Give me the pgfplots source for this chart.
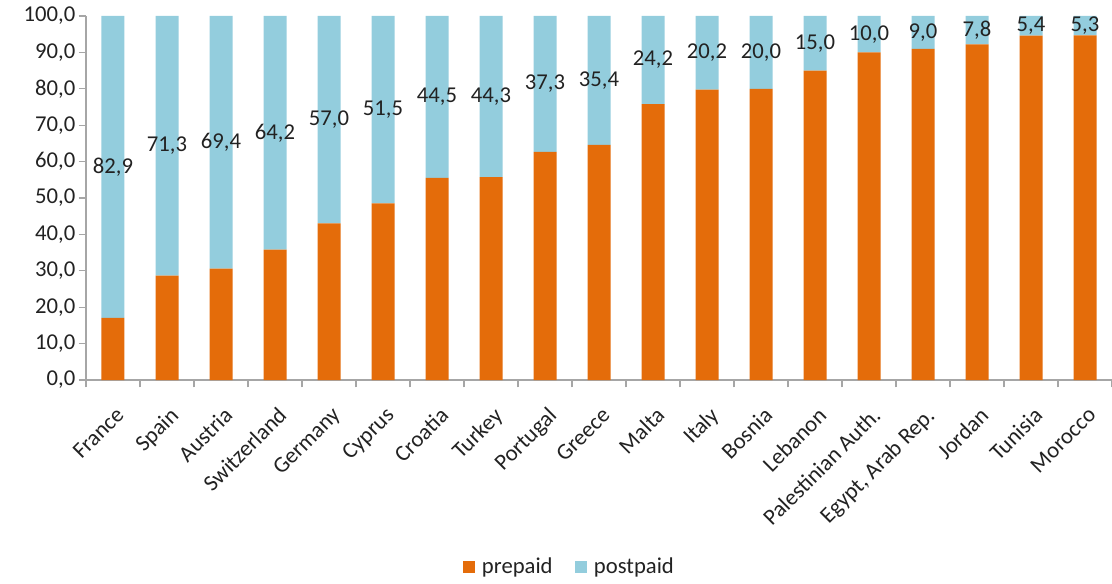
\documentclass[border=0pt]{standalone}
\usepackage{pgfplots}
\pgfplotsset{compat=1.18}
\usepackage{pgfplotstable}
\usepackage{fontspec}
\setmainfont{Carlito}

\definecolor{prepaidc}{HTML}{E46C0A}
\definecolor{postpaidc}{HTML}{93CDDD}
\definecolor{axisgray}{HTML}{A6A6A6}
\definecolor{txt}{HTML}{222222}
\newcommand{\lblfont}{\fontsize{17}{19}\selectfont}

% share of mobile subscriptions, per cent
\pgfplotstableread{
x  pre   post
0  17.1  82.9
1  28.7  71.3
2  30.6  69.4
3  35.8  64.2
4  43.0  57.0
5  48.5  51.5
6  55.5  44.5
7  55.7  44.3
8  62.7  37.3
9  64.6  35.4
10 75.8  24.2
11 79.8  20.2
12 80.0  20.0
13 85.0  15.0
14 90.0  10.0
15 91.0  9.0
16 92.2  7.8
17 94.6  5.4
18 94.7  5.3
}\subs

\begin{document}
\begin{tikzpicture}
\useasboundingbox (-64.5pt,-153pt) rectangle (769.5pt,285pt);
\begin{axis}[
  scale only axis,
  width=769.5pt, height=273pt,
  ybar stacked, bar width=17.25pt,
  xmin=-0.5, xmax=18.5,
  ymin=0, ymax=100,
  ytick={0,10,...,100},
  xtick={-0.5,0.5,...,18.5},
  xticklabels={},
  extra x ticks={0,1,...,18},
  extra x tick labels={France,Spain,Austria,Switzerland,Germany,Cyprus,Croatia,Turkey,Portugal,Greece,Malta,Italy,Bosnia,Lebanon,Palestinian Auth.,{Egypt, Arab Rep.},Jordan,Tunisia,Morocco},
  extra x tick style={major tick length=0pt},
  axis x line*=bottom, axis y line*=left,
  axis line style={axisgray, line width=0.8pt},
  tick style={axisgray, line width=0.8pt},
  tick align=outside, major tick length=5.5pt,
  yticklabel style={font=\lblfont, text=txt, xshift=1pt},
  xticklabel style={font=\lblfont, text=txt, xshift=1.3pt, yshift=-17.8pt, rotate=45, anchor=north east, inner sep=1pt},
  /pgf/number format/.cd, fixed, fixed zerofill, precision=1, use comma, assume math mode=true,
  /pgfplots/.cd,
  legend style={draw=none, at={(0.4717,-0.514)}, anchor=center, legend columns=2,
    font=\lblfont, text=txt,
    /tikz/every odd column/.append style={column sep=3pt},
    /tikz/every even column/.append style={column sep=15pt}},
  legend image code/.code={\fill[#1] (0pt,-4.5pt) rectangle (9pt,4.5pt);},
]
\addplot[fill=prepaidc, draw=none] table[x=x, y=pre] {\subs};
\addplot[fill=postpaidc, draw=none,
  point meta={\thisrow{post}},
  nodes near coords={\pgfmathprintnumber[fixed,fixed zerofill,precision=1,use comma,assume math mode=true]{\pgfplotspointmeta}},
  every node near coord/.append style={font=\lblfont, text=txt, anchor=center},
] table[x=x, y=post] {\subs};
\legend{prepaid, postpaid}
\end{axis}
\end{tikzpicture}
\end{document}
